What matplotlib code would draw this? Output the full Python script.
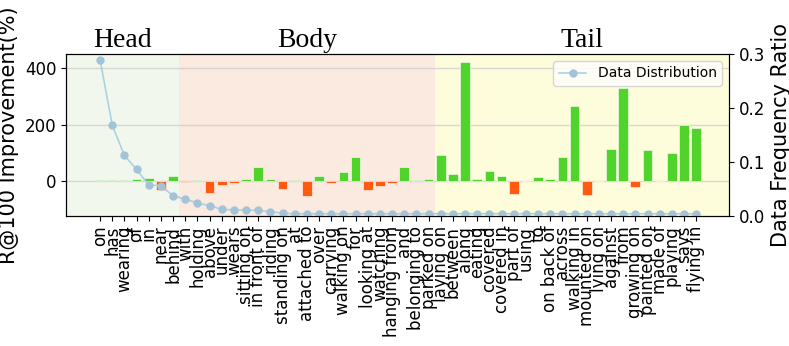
import matplotlib
matplotlib.use("Agg")
import matplotlib.pyplot as plt
import numpy as np

# predicate classes, sorted by frequency
predicates = [
    "on", "has", "wearing", "of", "in", "near", "behind",
    "with", "holding", "above", "under", "wears", "sitting on", "in front of",
    "riding", "standing on", "at", "attached to", "over", "carrying", "walking on",
    "for", "looking at", "watching", "hanging from", "and", "belonging to", "parked on",
    "laying on", "between", "along", "eating", "covered", "covered in", "part of",
    "using", "to", "on back of", "across", "walking in", "mounted on", "lying on",
    "against", "from", "growing on", "painted on", "made of", "playing", "says", "flying in",
]

# R@100 improvement (%) per predicate
improvement = [
    5, 3, 3, 7, 11, -32, 16,
    -3, 5, -41, -16, -6, 8, 48, 8, -30, 5, -53, 19, -6, 32,
    85, -31, -18, -6, 50, 4, 6,
    91, 25, 424, 8, 37, 19, -47, 0, 13, 7, 84, 265, -51, 0,
    112, 330, -21, 110, 0, 99, 198, 189,
]

# frequency ratio of each predicate in the training data
freq_ratio = [
    0.289, 0.168, 0.112, 0.086, 0.057, 0.056, 0.037,
    0.031, 0.024, 0.019, 0.012, 0.011, 0.0105, 0.0105, 0.0075, 0.005, 0.004, 0.004,
    0.004, 0.004, 0.004, 0.004, 0.004, 0.004, 0.004, 0.004, 0.004, 0.004,
    0.004, 0.004, 0.004, 0.004, 0.004, 0.004, 0.004, 0.004, 0.004, 0.004,
    0.004, 0.004, 0.004, 0.004, 0.004, 0.004, 0.004, 0.004, 0.004, 0.004, 0.004, 0.004,
]

groups = ["Head", "Body", "Tail"]
group_sizes = [7, 21, 22]
group_colors = ["#f1f7ed", "#faeadf", "#fefddb"]

x = np.arange(len(predicates))

fig = plt.figure(figsize=(7.89, 3.46), dpi=100)
ax = fig.add_axes([0.0837, 0.376, 0.8403, 0.468])

xmin, xmax = -2.8, 51.7
ax.set_xlim(xmin, xmax)
ax.set_ylim(-124, 451)

# shaded head / body / tail regions
edges = [xmin, 6.5, 27.5, xmax]
for i, name in enumerate(groups):
    ax.axvspan(edges[i], edges[i + 1], color=group_colors[i], zorder=0, lw=0)
    ax.text((edges[i] + edges[i + 1]) / 2, 1.04, name, transform=ax.get_xaxis_transform(),
            ha="center", va="baseline", fontsize=20, family="Liberation Serif")

bar_colors = ["#50d42c" if v >= 0 else "#ff5a10" for v in improvement]
ax.bar(x, improvement, width=0.8, color=bar_colors, edgecolor="white", linewidth=0.4, zorder=2)

ax.set_yticks([0, 200, 400])
ax.grid(axis="y", color="#cfcfcf", linewidth=1, alpha=0.8, zorder=1)
ax.set_axisbelow(True)
ax.set_xticks(x)
ax.set_xticklabels(predicates, rotation=90, fontsize=12)
ax.tick_params(axis="y", labelsize=12)
ax.set_ylabel("R@100 Improvement(%)", fontsize=15)

ax2 = ax.twinx()
ax2.plot(x, freq_ratio, color="#a9d3e2", marker="o", markersize=5,
         markerfacecolor="#a2c3d8", markeredgecolor="#a2c3d8", linewidth=1.2,
         label="Data Distribution")
ax2.set_ylim(0, 0.3)
ax2.set_yticks([0.0, 0.1, 0.2, 0.3])
ax2.tick_params(axis="y", labelsize=12)
ax2.set_ylabel("Data Frequency Ratio", fontsize=15)
ax2.legend(loc="upper right", fontsize=10)

fig.savefig("out.png", dpi=100)
